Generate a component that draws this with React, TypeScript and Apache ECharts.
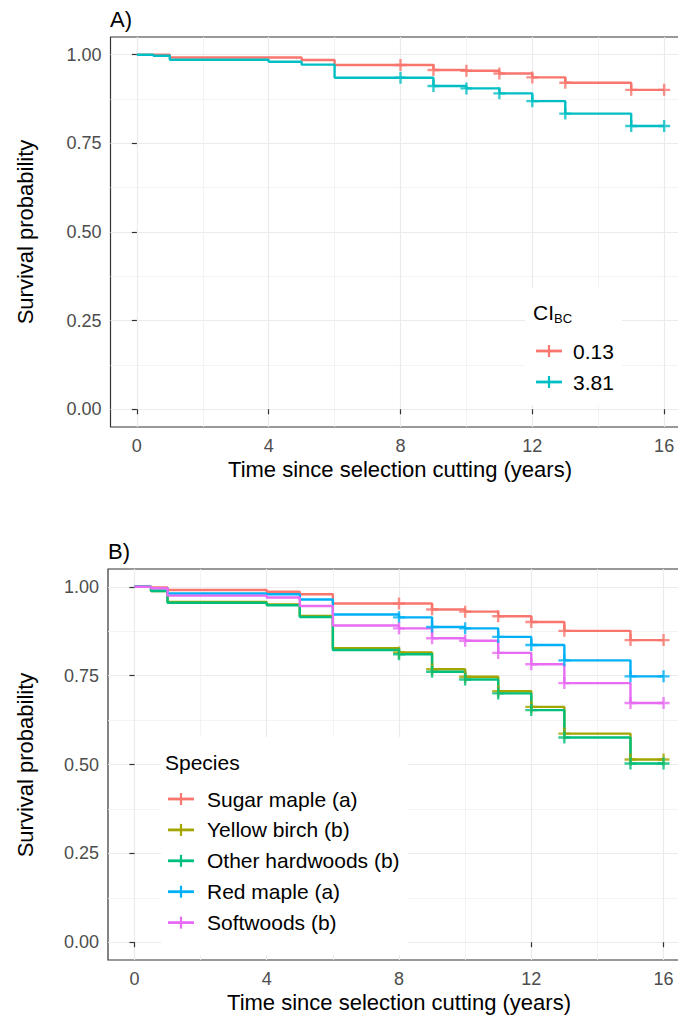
import React, { useEffect, useRef } from "react";
import * as echarts from "echarts";

// ---------- data ----------
const xTicks = [0, 4, 8, 12, 16];
const xMinorTicks = [2, 6, 10, 14];
const yTicks = [0, 0.25, 0.5, 0.75, 1];
const yMinorTicks = [0.125, 0.375, 0.625, 0.875];
const censorTimes = [8, 9, 10, 11, 12, 13, 15, 16];

// Panel A: CI_BC groups
const groupsA = ["0.13", "3.81"];
const colorsA = ["#F8766D", "#00BFC4"];
const timesA013 = [0, 1, 5, 6, 9, 10, 11, 12, 13, 15, 16];
const survA013 = [1.0, 0.992, 0.985, 0.971, 0.957, 0.955, 0.947, 0.936, 0.921, 0.901, 0.901];
const timesA381 = [0, 0.5, 1, 4, 5, 6, 9, 10, 11, 12, 13, 15, 16];
const survA381 = [1.0, 0.997, 0.986, 0.98, 0.972, 0.935, 0.912, 0.905, 0.891, 0.869, 0.834, 0.799, 0.799];

// Panel B: species
const speciesB = ["Sugar maple (a)", "Yellow birch (b)", "Other hardwoods (b)", "Red maple (a)", "Softwoods (b)"];
const colorsB = ["#F8766D", "#A3A500", "#00BF7D", "#00B0F6", "#E76BF3"];
const timesSugar = [0, 0.5, 1, 4, 5, 6, 9, 10, 11, 12, 13, 15, 16];
const survSugar = [1.0, 0.998, 0.991, 0.986, 0.979, 0.953, 0.936, 0.93, 0.917, 0.901, 0.876, 0.85, 0.85];
const timesYellow = [0, 0.5, 1, 4, 5, 6, 8, 9, 10, 11, 12, 13, 15, 16];
const survYellow = [1.0, 0.988, 0.957, 0.95, 0.918, 0.827, 0.815, 0.768, 0.747, 0.706, 0.662, 0.587, 0.514, 0.514];
const timesOther = [0, 0.5, 1, 4, 5, 6, 8, 9, 10, 11, 12, 13, 15, 16];
const survOther = [1.0, 0.988, 0.955, 0.948, 0.915, 0.822, 0.81, 0.761, 0.739, 0.7, 0.653, 0.576, 0.503, 0.503];
const timesRed = [0, 0.5, 1, 4, 5, 6, 8, 9, 10, 11, 12, 13, 15, 16];
const survRed = [1.0, 0.996, 0.981, 0.979, 0.964, 0.922, 0.914, 0.887, 0.883, 0.859, 0.836, 0.793, 0.748, 0.748];
const timesSoft = [0, 0.5, 1, 4, 5, 6, 8, 9, 10, 11, 12, 13, 15, 16];
const survSoft = [1.0, 0.996, 0.975, 0.97, 0.946, 0.891, 0.883, 0.855, 0.848, 0.814, 0.782, 0.729, 0.673, 0.673];

const seriesA = [
  { name: groupsA[0], times: timesA013, surv: survA013, color: colorsA[0] },
  { name: groupsA[1], times: timesA381, surv: survA381, color: colorsA[1] },
];
const seriesB = [
  { name: speciesB[0], times: timesSugar, surv: survSugar, color: colorsB[0] },
  { name: speciesB[1], times: timesYellow, surv: survYellow, color: colorsB[1] },
  { name: speciesB[2], times: timesOther, surv: survOther, color: colorsB[2] },
  { name: speciesB[3], times: timesRed, surv: survRed, color: colorsB[3] },
  { name: speciesB[4], times: timesSoft, surv: survSoft, color: colorsB[4] },
];

// ---------- helpers ----------
const FONT = "'Liberation Sans', Arial, sans-serif";
const PLUS = "path://M4,0H6V4H10V6H6V10H4V6H0V4H4Z";

function survAt(times: number[], surv: number[], t: number) {
  let v = surv[0];
  for (let i = 0; i < times.length; i++) if (times[i] <= t) v = surv[i];
  return v;
}

function xAxesFor(gi: number) {
  return [
    {
      type: "value", gridIndex: gi, min: -0.8, max: 16.8, position: "bottom",
      axisLine: { show: false },
      axisTick: { show: true, length: 5, customValues: xTicks, lineStyle: { color: "#333333", width: 1.2 } },
      axisLabel: { customValues: xTicks, fontSize: 18, color: "#4D4D4D", margin: 10, fontFamily: FONT },
      splitLine: { show: true, lineStyle: { color: "#EBEBEB", width: 1.2 } },
    },
    {
      type: "value", gridIndex: gi, min: -0.8, max: 16.8, position: "bottom",
      axisLine: { show: false },
      axisTick: { show: false, customValues: xMinorTicks },
      axisLabel: { show: false, customValues: xMinorTicks },
      splitLine: { show: true, lineStyle: { color: "#F0F0F0", width: 0.8 } },
    },
  ];
}
function yAxesFor(gi: number) {
  return [
    {
      type: "value", gridIndex: gi, min: -0.05, max: 1.05, position: "left",
      axisLine: { show: false },
      axisTick: { show: true, length: 5, customValues: yTicks, lineStyle: { color: "#333333", width: 1.2 } },
      axisLabel: {
        customValues: yTicks, fontSize: 18, color: "#4D4D4D", margin: 9, fontFamily: FONT,
        formatter: (v: number) => Number(v).toFixed(2),
      },
      splitLine: { show: true, lineStyle: { color: "#EBEBEB", width: 1.2 } },
    },
    {
      type: "value", gridIndex: gi, min: -0.05, max: 1.05, position: "left",
      axisLine: { show: false },
      axisTick: { show: false, customValues: yMinorTicks },
      axisLabel: { show: false, customValues: yMinorTicks },
      splitLine: { show: true, lineStyle: { color: "#F0F0F0", width: 0.8 } },
    },
  ];
}

function buildSeries(list: any[], gi: number) {
  const lines = list.map((s) => ({
    type: "line", name: s.name, xAxisIndex: gi * 2, yAxisIndex: gi * 2,
    data: s.times.map((t: number, i: number) => [t, s.surv[i]]),
    step: "end", symbol: "none", silent: true, z: 2,
    lineStyle: { color: s.color, width: 2.4 }, itemStyle: { color: s.color },
  }));
  const marks = list.map((s) => ({
    type: "scatter", name: s.name + " censor", xAxisIndex: gi * 2, yAxisIndex: gi * 2,
    data: censorTimes.map((t) => [t, survAt(s.times, s.surv, t)]),
    symbol: PLUS, symbolSize: 12, silent: true, z: 3,
    itemStyle: { color: s.color },
  }));
  return [...lines, ...marks];
}

function txt(x: number, y: number, text: string, size: number, opts: any = {}) {
  return {
    type: "text", x, y, z: 110, rotation: opts.rotation || 0, silent: true,
    style: {
      text, fontSize: size, fontFamily: FONT, fill: opts.fill || "#000000",
      align: opts.align || "left", textAlign: opts.align || "left",
      verticalAlign: "middle", textVerticalAlign: "middle",
    },
  };
}

function legendKey(x: number, y: number, color: string) {
  return [
    { type: "line", z: 110, silent: true, shape: { x1: x, y1: y, x2: x + 26, y2: y }, style: { stroke: color, lineWidth: 2.8 } },
    { type: "line", z: 110, silent: true, shape: { x1: x + 13, y1: y - 6, x2: x + 13, y2: y + 6 }, style: { stroke: color, lineWidth: 2.2 } },
  ];
}

export default function App() {
  const ref = useRef<HTMLDivElement>(null);
  useEffect(() => {
    if (!ref.current) return;
    const chart = echarts.init(ref.current, undefined, { renderer: "svg" });

    const graphic: any[] = [
      txt(110, 19, "A)", 22),
      txt(108, 551, "B)", 22),
      txt(25, 232, "Survival probability", 22, { rotation: Math.PI / 2, align: "center" }),
      txt(25, 765, "Survival probability", 22, { rotation: Math.PI / 2, align: "center" }),
      txt(400, 469, "Time since selection cutting (years)", 22, { align: "center" }),
      txt(399, 1002, "Time since selection cutting (years)", 22, { align: "center" }),
      // legend A
      { type: "rect", z: 100, silent: true, shape: { x: 525, y: 288, width: 97, height: 117 }, style: { fill: "#ffffff" } },
      txt(533, 312, "CI", 21),
      txt(554, 318, "BC", 13),
    ];
    seriesA.forEach((s, i) => {
      const y = 351 + i * 31;
      graphic.push(...legendKey(536, y, s.color));
      graphic.push(txt(573, y, s.name, 21));
    });
    // legend B
    graphic.push({ type: "rect", z: 100, silent: true, shape: { x: 161, y: 737, width: 247, height: 218 }, style: { fill: "#ffffff" } });
    graphic.push(txt(165, 762, "Species", 21));
    seriesB.forEach((s, i) => {
      const y = 799 + i * 30.9;
      graphic.push(...legendKey(168, y, s.color));
      graphic.push(txt(207, y, s.name, 21));
    });

    chart.setOption({
      animation: false,
      backgroundColor: "#ffffff",
      textStyle: { fontFamily: FONT },
      grid: [
        { left: 110.5, top: 37, width: 580, height: 390, show: true, backgroundColor: "#ffffff", borderColor: "#333333", borderWidth: 1.2 },
        { left: 108, top: 569, width: 582, height: 391, show: true, backgroundColor: "#ffffff", borderColor: "#333333", borderWidth: 1.2 },
      ],
      xAxis: [...xAxesFor(0), ...xAxesFor(1)],
      yAxis: [...yAxesFor(0), ...yAxesFor(1)],
      series: [...buildSeries(seriesA, 0), ...buildSeries(seriesB, 1)],
      graphic,
    });
    return () => chart.dispose();
  }, []);
  return (
    <div
      ref={ref}
      style={{ position: "fixed", left: 0, top: 0, width: 710, height: 1016, background: "#ffffff" }}
    />
  );
}
